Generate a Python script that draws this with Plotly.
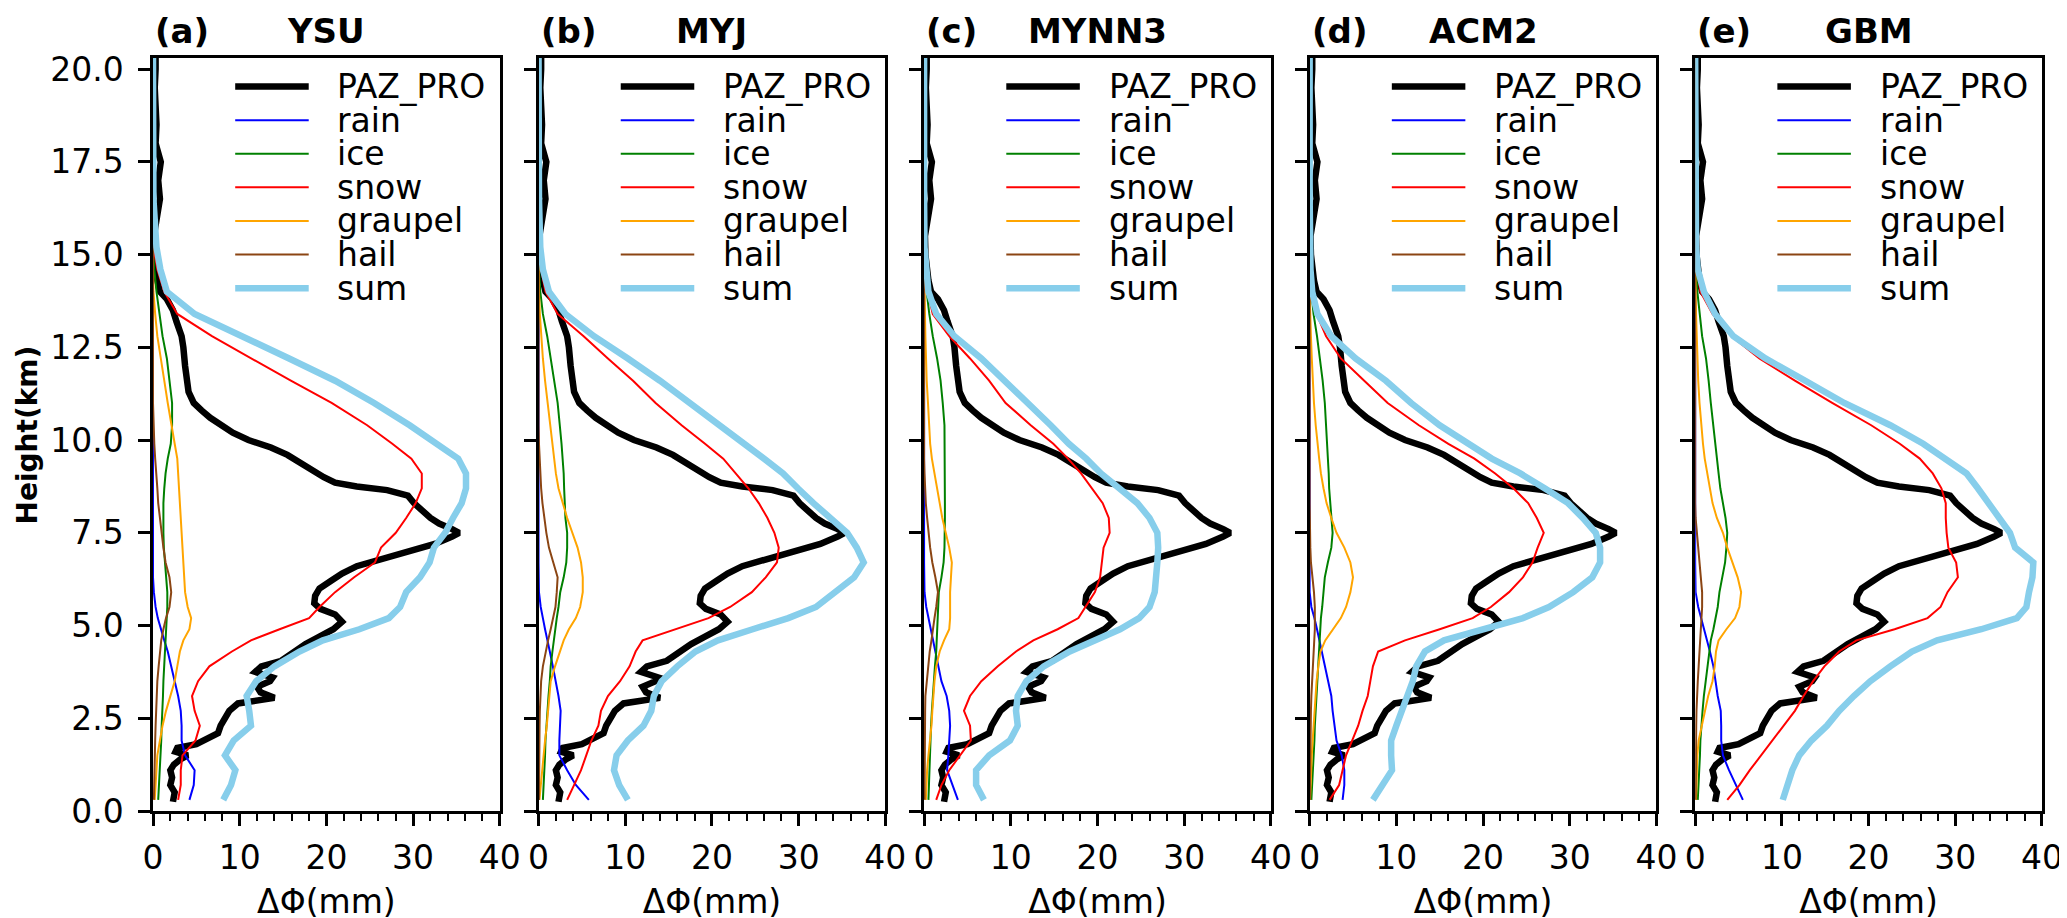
import plotly.graph_objects as go
from plotly.subplots import make_subplots

# heights (km) of the model profiles
HEIGHT_MODEL = [0.3, 0.7, 1.1, 1.5, 1.9, 2.3, 2.7, 3.1, 3.5, 3.9,
                4.3, 4.6, 4.9, 5.2, 5.5, 5.9, 6.3, 6.7, 7.1, 7.5,
                7.9, 8.3, 8.7, 9.1, 9.5, 9.9, 10.4, 11.0, 11.6, 12.2,
                12.8, 13.4, 14.0, 14.6, 15.2, 16.5, 18.5, 20.3]

# heights (km) of the observed profile
HEIGHT_OBS = [0.25, 0.5, 0.7, 0.9, 1.1, 1.25, 1.4, 1.5, 1.6, 1.7,
              1.8, 2.0, 2.1, 2.3, 2.5, 2.7, 2.9, 3.05, 3.2, 3.35,
              3.5, 3.6, 3.75, 3.9, 4.05, 4.3, 4.5, 4.7, 4.9, 5.1,
              5.3, 5.45, 5.6, 5.8, 6.0, 6.2, 6.4, 6.6, 6.8, 7.0,
              7.2, 7.4, 7.5, 7.6, 7.75, 7.9, 8.1, 8.3, 8.5, 8.65,
              8.75, 8.85, 9.0, 9.2, 9.4, 9.6, 9.8, 10.0, 10.2, 10.4,
              10.6, 10.8, 11.0, 11.3, 11.6, 12.0, 12.5, 12.8, 13.2, 13.5,
              13.8, 14.0, 14.3, 14.6, 15.0, 15.5, 16.0, 16.5, 17.0, 17.5,
              18.0, 18.5, 19.0, 19.5, 20.0, 20.3]

PAZ_PRO = [2.3, 2.5, 2.0, 2.2, 2.0, 2.4, 3.2, 4.0, 2.6, 2.8,
           5.0, 6.5, 7.5, 7.8, 8.4, 8.8, 9.8, 14.0, 12.4, 12.0,
           13.5, 13.8, 11.8, 12.5, 14.8, 16.3, 17.6, 19.2, 20.8, 21.8,
           21.0, 19.3, 18.6, 18.7, 19.2, 20.5, 21.8, 23.5, 26.5, 29.8,
           32.5, 34.5, 35.3, 34.5, 33.0, 32.0, 31.0, 30.1, 29.4, 27.0,
           23.5, 21.0, 19.7, 18.2, 16.9, 15.5, 13.6, 11.0, 9.2, 7.8,
           6.6, 5.6, 4.7, 4.1, 3.9, 3.7, 3.5, 3.3, 2.7, 2.3,
           1.6, 0.8, 0.5, 0.3, 0.15, 0.1, 0.5, 0.8, 0.6, 0.9,
           0.3, 0.4, 0.3, 0.2, 0.3, 0.3]

# --- YSU ---
YSU_RAIN = [4.2, 4.7, 4.8, 3.7, 3.3, 3.3, 3.2, 2.9, 2.5, 2.1,
            1.7, 1.3, 0.9, 0.55, 0.3, 0.1, 0, 0, 0, 0,
            0, 0, 0, 0, 0, 0, 0, 0, 0, 0,
            0, 0, 0, 0, 0, 0, 0, 0]
YSU_ICE = [0.6, 0.7, 0.75, 0.85, 0.95, 1.0, 1.1, 1.15, 1.2, 1.3,
           1.4, 1.45, 1.5, 1.6, 1.65, 1.65, 1.5, 1.35, 1.25, 1.2,
           1.2, 1.2, 1.3, 1.45, 1.7, 2.05, 2.2, 2.2, 1.9, 1.6,
           1.1, 0.75, 0.4, 0.15, 0, 0, 0, 0]
YSU_SNOW = [2.9, 3.2, 3.2, 3.4, 4.9, 5.4, 4.8, 4.5, 5.2, 6.5,
            9.1, 11.3, 14.6, 18.0, 19.2, 21.0, 23.2, 25.6, 26.3, 28.0,
            29.2, 30.3, 31.0, 31.0, 29.8, 27.6, 24.7, 20.6, 15.9, 11.3,
            6.8, 2.8, 1.3, 0.5, 0.05, 0, 0, 0]
YSU_GRAUPEL = [0.2, 0.3, 0.35, 0.5, 0.8, 1.1, 1.5, 2.0, 2.5, 2.8,
               3.1, 3.5, 4.2, 4.4, 4.0, 3.7, 3.6, 3.5, 3.4, 3.3,
               3.2, 3.1, 3.0, 2.9, 2.8, 2.5, 2.1, 1.7, 1.3, 0.9,
               0.5, 0.25, 0.05, 0, 0, 0, 0, 0]
YSU_HAIL = [0.1, 0.12, 0.15, 0.2, 0.25, 0.3, 0.35, 0.4, 0.5, 0.65,
            0.8, 0.95, 1.2, 1.5, 1.9, 2.1, 1.9, 1.45, 1.2, 1.0,
            0.8, 0.6, 0.5, 0.35, 0.25, 0.15, 0.05, 0, 0, 0,
            0, 0, 0, 0, 0, 0, 0, 0]
YSU_SUM = [8.1, 9.0, 9.5, 8.3, 9.3, 11.3, 11.1, 10.8, 11.9, 14.0,
           16.9, 19.6, 23.8, 27.2, 28.5, 29.2, 30.8, 31.9, 32.4, 33.7,
           34.6, 35.6, 36.1, 36.1, 35.2, 32.8, 29.6, 25.5, 21.0, 15.7,
           10.2, 4.8, 1.6, 0.85, 0.4, 0.05, 0.02, 0]

# --- MYJ ---
MYJ_RAIN = [5.8, 4.3, 3.3, 2.4, 2.4, 2.5, 2.55, 2.3, 2.0, 1.65,
            1.3, 1.0, 0.75, 0.5, 0.25, 0.05, 0, 0, 0, 0,
            0, 0, 0, 0, 0, 0, 0, 0, 0, 0,
            0, 0, 0, 0, 0, 0, 0, 0]
MYJ_ICE = [0.5, 0.6, 0.65, 0.75, 0.8, 0.9, 1.0, 1.15, 1.3, 1.4,
           1.6, 1.75, 1.95, 2.1, 2.3, 2.5, 2.9, 3.2, 3.3, 3.3,
           3.1, 3.0, 2.95, 2.9, 2.8, 2.65, 2.45, 2.2, 1.8, 1.4,
           1.0, 0.5, 0.2, 0.05, 0, 0, 0, 0]
MYJ_SNOW = [3.3, 4.1, 4.9, 5.5, 6.1, 6.9, 7.2, 8.0, 9.4, 10.5,
            11.2, 12.0, 15.7, 19.6, 22.1, 24.6, 26.2, 27.5, 27.7, 27.2,
            26.4, 25.4, 24.2, 22.8, 21.3, 19.2, 16.5, 13.5, 10.9, 8.0,
            5.2, 2.2, 0.8, 0.3, 0.05, 0, 0, 0]
MYJ_GRAUPEL = [0.1, 0.25, 0.4, 0.6, 0.75, 0.95, 1.1, 1.25, 1.4, 1.9,
               2.5, 2.9, 3.5, 4.3, 4.8, 5.1, 5.1, 4.9, 4.5, 3.9,
               3.3, 2.8, 2.3, 2.0, 1.8, 1.6, 1.35, 1.0, 0.75, 0.5,
               0.3, 0.15, 0.05, 0, 0, 0, 0, 0]
MYJ_HAIL = [0.05, 0.05, 0.08, 0.1, 0.1, 0.12, 0.15, 0.2, 0.3, 0.5,
            0.8, 1.1, 1.4, 1.7, 1.95, 2.1, 2.2, 1.7, 1.2, 0.9,
            0.65, 0.45, 0.3, 0.2, 0.1, 0.05, 0, 0, 0, 0,
            0, 0, 0, 0, 0, 0, 0, 0]
MYJ_SUM = [10.3, 9.3, 8.7, 9.0, 10.3, 12.1, 13.0, 13.3, 14.2, 16.0,
           18.1, 20.7, 24.7, 28.8, 32.0, 34.3, 36.4, 37.5, 36.7, 35.6,
           33.6, 31.7, 29.9, 28.2, 26.0, 23.7, 20.9, 17.6, 14.0, 10.3,
           6.4, 3.1, 1.2, 0.5, 0.2, 0.05, 0.02, 0]

# --- MYNN3 ---
MYNN3_RAIN = [3.9, 3.3, 2.65, 2.8, 2.9, 3.0, 2.9, 2.6, 2.0, 1.65,
              1.3, 1.0, 0.75, 0.5, 0.25, 0.05, 0, 0, 0, 0,
              0, 0, 0, 0, 0, 0, 0, 0, 0, 0,
              0, 0, 0, 0, 0, 0, 0, 0]
MYNN3_ICE = [0.5, 0.55, 0.6, 0.7, 0.75, 0.8, 0.9, 1.0, 1.1, 1.25,
             1.4, 1.45, 1.5, 1.5, 1.55, 1.7, 2.0, 2.25, 2.35, 2.4,
             2.4, 2.4, 2.4, 2.4, 2.4, 2.4, 2.35, 2.15, 1.9, 1.5,
             1.0, 0.6, 0.3, 0.1, 0, 0, 0, 0]
MYNN3_SNOW = [1.4, 2.0, 2.9, 4.1, 5.4, 5.3, 4.6, 5.3, 6.6, 8.5,
              10.6, 12.6, 15.4, 17.8, 18.6, 19.7, 20.3, 20.5, 20.7, 21.4,
              21.3, 20.6, 19.3, 18.1, 16.6, 14.9, 12.3, 9.4, 7.5, 5.3,
              2.9, 1.0, 0.4, 0.1, 0, 0, 0, 0]
MYNN3_GRAUPEL = [0.2, 0.25, 0.35, 0.5, 0.7, 0.85, 0.95, 1.05, 1.2, 1.4,
                 1.8, 2.3, 2.9, 3.0, 3.0, 3.0, 3.1, 3.2, 2.9, 2.5,
                 2.1, 1.8, 1.5, 1.2, 0.9, 0.7, 0.55, 0.45, 0.3, 0.2,
                 0.15, 0.1, 0.05, 0, 0, 0, 0, 0]
MYNN3_HAIL = [0.05, 0.05, 0.05, 0.08, 0.1, 0.1, 0.12, 0.15, 0.3, 0.5,
              0.65, 0.85, 1.0, 1.2, 1.4, 1.6, 1.3, 0.95, 0.7, 0.5,
              0.35, 0.2, 0.1, 0.05, 0, 0, 0, 0, 0, 0,
              0, 0, 0, 0, 0, 0, 0, 0]
MYNN3_SUM = [6.9, 6.0, 6.0, 7.5, 9.9, 10.8, 10.6, 10.8, 11.8, 13.8,
             16.8, 19.5, 22.6, 24.8, 26.0, 26.6, 26.8, 26.9, 27.0, 26.9,
             26.0, 24.6, 22.5, 20.4, 18.7, 16.7, 14.6, 12.0, 9.4, 6.6,
             3.5, 1.4, 0.5, 0.2, 0.05, 0, 0, 0]

# --- ACM2 ---
ACM2_RAIN = [3.8, 4.0, 4.0, 3.7, 3.1, 2.85, 2.65, 2.5, 2.15, 1.8,
             1.4, 1.15, 0.85, 0.55, 0.2, 0, 0, 0, 0, 0,
             0, 0, 0, 0, 0, 0, 0, 0, 0, 0,
             0, 0, 0, 0, 0, 0, 0, 0]
ACM2_ICE = [0.2, 0.3, 0.35, 0.45, 0.55, 0.6, 0.7, 0.8, 0.9, 1.0,
            1.1, 1.15, 1.2, 1.3, 1.45, 1.6, 1.75, 2.1, 2.5, 2.65,
            2.5, 2.35, 2.25, 2.2, 2.1, 2.05, 1.95, 1.75, 1.5, 1.2,
            0.85, 0.45, 0.2, 0.05, 0, 0, 0, 0]
ACM2_SNOW = [2.3, 3.4, 3.8, 4.2, 4.9, 5.6, 6.1, 6.7, 7.0, 7.3,
             7.9, 11.0, 15.0, 18.8, 20.9, 23.0, 24.6, 25.7, 26.3, 27.0,
             26.2, 25.2, 23.5, 21.4, 19.0, 16.0, 12.6, 9.0, 6.3, 3.6,
             1.9, 0.8, 0.3, 0.1, 0, 0, 0, 0]
ACM2_GRAUPEL = [0.05, 0.1, 0.15, 0.25, 0.35, 0.45, 0.55, 0.7, 0.8, 1.0,
                1.25, 1.8, 2.7, 3.6, 4.2, 4.7, 5.0, 4.7, 4.0, 3.1,
                2.5, 1.95, 1.6, 1.3, 1.1, 0.9, 0.7, 0.5, 0.35, 0.25,
                0.15, 0.05, 0, 0, 0, 0, 0, 0]
ACM2_HAIL = [0.02, 0.03, 0.05, 0.07, 0.1, 0.12, 0.15, 0.2, 0.3, 0.4,
             0.5, 0.55, 0.6, 0.6, 0.6, 0.5, 0.3, 0.15, 0.08, 0.03,
             0, 0, 0, 0, 0, 0, 0, 0, 0, 0,
             0, 0, 0, 0, 0, 0, 0, 0]
ACM2_SUM = [7.3, 8.4, 9.5, 9.4, 9.4, 10.0, 10.7, 11.3, 11.9, 12.3,
            13.3, 15.5, 19.9, 24.6, 27.6, 30.4, 32.6, 33.5, 33.5, 33.0,
            31.5, 29.8, 27.1, 24.3, 21.0, 18.4, 15.0, 11.7, 8.8, 5.3,
            2.5, 0.9, 0.3, 0.1, 0.03, 0, 0, 0]

# --- GBM ---
GBM_RAIN = [5.5, 4.7, 3.9, 3.2, 3.0, 3.0, 2.95, 2.6, 2.35, 2.1,
            1.7, 1.35, 1.0, 0.7, 0.35, 0.05, 0, 0, 0, 0,
            0, 0, 0, 0, 0, 0, 0, 0, 0, 0,
            0, 0, 0, 0, 0, 0, 0, 0]
GBM_ICE = [0.3, 0.4, 0.45, 0.55, 0.6, 0.7, 0.85, 1.0, 1.2, 1.4,
           1.6, 1.8, 2.1, 2.35, 2.6, 2.8, 3.1, 3.45, 3.6, 3.7,
           3.5, 3.2, 2.9, 2.7, 2.5, 2.3, 2.1, 1.8, 1.55, 1.25,
           0.8, 0.5, 0.25, 0.1, 0, 0, 0, 0]
GBM_SNOW = [3.7, 5.1, 6.3, 7.6, 8.8, 10.2, 11.5, 12.5, 13.6, 14.9,
            16.6, 18.6, 23.0, 26.8, 28.3, 29.1, 30.3, 30.1, 29.2, 29.0,
            28.9, 28.9, 28.4, 27.4, 25.9, 23.6, 20.3, 15.8, 11.5, 7.4,
            4.2, 2.0, 0.6, 0.2, 0.05, 0, 0, 0]
GBM_GRAUPEL = [0.1, 0.15, 0.2, 0.25, 0.4, 0.75, 1.1, 1.5, 2.0, 2.25,
               2.4, 2.7, 3.6, 4.6, 5.1, 5.3, 4.9, 4.3, 3.7, 3.2,
               2.5, 2.0, 1.7, 1.4, 1.1, 0.9, 0.7, 0.5, 0.35, 0.25,
               0.15, 0.1, 0.05, 0, 0, 0, 0, 0]
GBM_HAIL = [0.05, 0.05, 0.05, 0.08, 0.1, 0.12, 0.15, 0.2, 0.3, 0.4,
            0.5, 0.6, 0.7, 0.75, 0.8, 0.8, 0.65, 0.45, 0.3, 0.15,
            0.05, 0, 0, 0, 0, 0, 0, 0, 0, 0,
            0, 0, 0, 0, 0, 0, 0, 0]
GBM_SUM = [10.1, 10.7, 11.2, 12.0, 13.4, 15.2, 16.6, 18.3, 20.2, 22.5,
           25.0, 27.9, 33.0, 37.1, 38.2, 38.5, 38.9, 39.0, 36.9, 36.3,
           35.1, 34.0, 32.6, 31.3, 28.8, 26.3, 22.5, 17.2, 12.7, 8.1,
           4.4, 2.3, 1.0, 0.3, 0.1, 0.03, 0.01, 0]

SCHEMES = ["YSU", "MYJ", "MYNN3", "ACM2", "GBM"]
TAGS = ["(a)", "(b)", "(c)", "(d)", "(e)"]
SPECIES = ["rain", "ice", "snow", "graupel", "hail", "sum"]
PROFILES = {
    "YSU": [YSU_RAIN, YSU_ICE, YSU_SNOW, YSU_GRAUPEL, YSU_HAIL, YSU_SUM],
    "MYJ": [MYJ_RAIN, MYJ_ICE, MYJ_SNOW, MYJ_GRAUPEL, MYJ_HAIL, MYJ_SUM],
    "MYNN3": [MYNN3_RAIN, MYNN3_ICE, MYNN3_SNOW, MYNN3_GRAUPEL, MYNN3_HAIL, MYNN3_SUM],
    "ACM2": [ACM2_RAIN, ACM2_ICE, ACM2_SNOW, ACM2_GRAUPEL, ACM2_HAIL, ACM2_SUM],
    "GBM": [GBM_RAIN, GBM_ICE, GBM_SNOW, GBM_GRAUPEL, GBM_HAIL, GBM_SUM],
}
STYLE = {
    "PAZ_PRO": ("black", 6.5),
    "rain": ("blue", 2),
    "ice": ("green", 2),
    "snow": ("red", 2),
    "graupel": ("orange", 2),
    "hail": ("saddlebrown", 2),
    "sum": ("skyblue", 6.5),
}

FONT = "DejaVu Sans"

fig = make_subplots(rows=1, cols=5, horizontal_spacing=0.0205)

for col, scheme in enumerate(SCHEMES, start=1):
    color, width = STYLE["PAZ_PRO"]
    fig.add_trace(
        go.Scatter(x=PAZ_PRO, y=HEIGHT_OBS, mode="lines", name="PAZ_PRO",
                   line=dict(color=color, width=width), showlegend=False),
        row=1, col=col,
    )
    for name, values in zip(SPECIES, PROFILES[scheme]):
        color, width = STYLE[name]
        fig.add_trace(
            go.Scatter(x=values, y=HEIGHT_MODEL, mode="lines", name=name,
                       line=dict(color=color, width=width), showlegend=False),
            row=1, col=col,
        )

    suffix = "" if col == 1 else str(col)
    xref = f"x{suffix} domain"
    yref = f"y{suffix} domain"

    # legend drawn inside each panel
    for i, name in enumerate(["PAZ_PRO"] + SPECIES):
        color, width = STYLE[name]
        ypos = 1 - (29 + 34.2 * i) / 766
        fig.add_shape(type="line", xref=xref, yref=yref, x0=0.237, x1=0.449,
                      y0=ypos, y1=ypos, line=dict(color=color, width=width))
        fig.add_annotation(text=name, xref=xref, yref=yref, x=0.526, y=ypos,
                           xanchor="left", yanchor="middle", showarrow=False,
                           font=dict(family=FONT, size=33, color="black"))

    # panel titles
    fig.add_annotation(text=f"<b>{TAGS[col - 1]}</b>", xref=xref, yref=yref,
                       x=0, y=1.036, xanchor="left", yanchor="middle",
                       showarrow=False, font=dict(family=FONT, size=34, color="black"))
    fig.add_annotation(text=f"<b>{scheme}</b>", xref=xref, yref=yref,
                       x=0.5, y=1.036, xanchor="center", yanchor="middle",
                       showarrow=False, font=dict(family=FONT, size=34, color="black"))

fig.update_xaxes(
    range=[0, 40], tickvals=[0, 10, 20, 30, 40],
    ticks="outside", ticklen=12, tickwidth=2.5, tickcolor="black",
    minor=dict(dtick=2, ticks="outside", ticklen=7, tickwidth=2, tickcolor="black"),
    showline=True, linewidth=2.5, linecolor="black", mirror=True,
    showgrid=False, zeroline=False,
    tickfont=dict(family=FONT, size=33, color="black"),
    ticklabelstandoff=4,
    title=dict(text="ΔΦ(mm)", font=dict(family=FONT, size=33, color="black"), standoff=14),
)
fig.update_yaxes(
    range=[0, 20.3], tickvals=[0, 2.5, 5, 7.5, 10, 12.5, 15, 17.5, 20],
    tickformat=".1f",
    ticks="outside", ticklen=12, tickwidth=2.5, tickcolor="black",
    showline=True, linewidth=2.5, linecolor="black", mirror=True,
    showgrid=False, zeroline=False,
    tickfont=dict(family=FONT, size=33, color="black"),
    ticklabelstandoff=8,
    showticklabels=False,
)
fig.update_yaxes(showticklabels=True, row=1, col=1)

fig.add_annotation(text="<b>Height(km)</b>", xref="paper", yref="paper",
                   x=-0.0662, y=0.5, xanchor="center", yanchor="middle",
                   textangle=-90, showarrow=False,
                   font=dict(family=FONT, size=28, color="black"))

fig.update_layout(
    width=2067, height=918,
    margin=dict(l=145, r=20, t=50, b=102),
    paper_bgcolor="white", plot_bgcolor="white",
    font=dict(family=FONT, color="black"),
    showlegend=False,
)

fig.write_html("out.html")
